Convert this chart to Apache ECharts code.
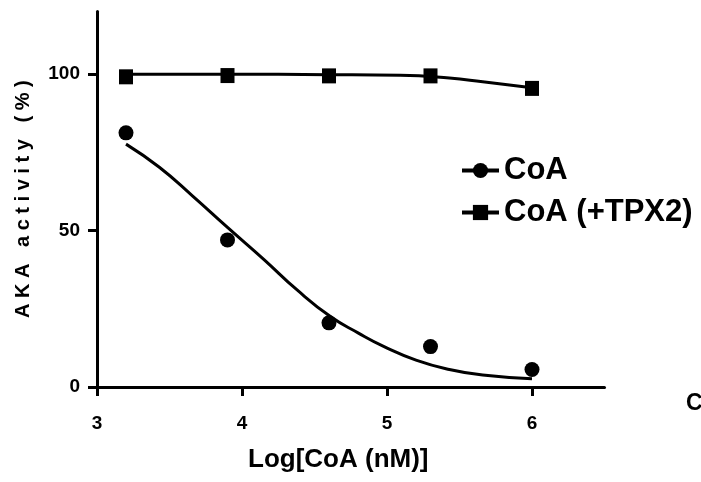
<!DOCTYPE html>
<html>
<head>
<meta charset="utf-8">
<script src="https://cdn.jsdelivr.net/npm/echarts@6/dist/echarts.min.js"></script>
<style>
html,body{margin:0;padding:0;background:#fff;}
#c{width:701px;height:482px;}
</style>
</head>
<body>
<div id="c"></div>
<script>
// Measured points
const coaX = [3.2, 3.9, 4.6, 5.3, 6.0];
const coaY = [81.2, 47.0, 20.5, 12.9, 5.6];
const tpxX = [3.2, 3.9, 4.6, 5.3, 6.0];
const tpxY = [99.1, 99.5, 99.4, 99.4, 95.4];
// Fitted curves
const coaFitX = [3.2, 3.43, 3.66, 3.9, 4.15, 4.38, 4.61, 4.8, 4.98, 5.2, 5.43, 5.66, 6.0];
const coaFitY = [77.6, 70.2, 61.0, 51.0, 40.8, 31.0, 22.5, 17.3, 12.9, 8.6, 5.6, 3.8, 2.6];
const tpxFitX = [3.2, 3.9, 4.6, 5.09, 5.43, 5.66, 6.0];
const tpxFitY = [99.9, 99.9, 99.8, 99.6, 98.7, 97.5, 95.6];
const xTicks = [3, 4, 5, 6];
const yTicks = [0, 50, 100];
const seriesNames = ['CoA', 'CoA (+TPX2)'];
const xName = 'Log[CoA (nM)]';
const yName = 'A K A   a c t i v i t y   ( % )';

const zip = (a, b) => a.map((v, i) => [v, b[i]]);
const FONT = "'Liberation Sans', Arial, sans-serif";

const chart = echarts.init(document.getElementById('c'), null, {renderer: 'canvas'});
chart.setOption({
  animation: false,
  backgroundColor: '#fff',
  grid: {left: 97, right: 96.5, top: 11.4, bottom: 95, containLabel: false},
  xAxis: {
    type: 'value', min: 3, max: 6.5, interval: 1,
    name: xName, nameLocation: 'middle', nameGap: 60,
    nameTextStyle: {fontFamily: FONT, fontWeight: 'bold', fontSize: 26, color: '#000', padding: [0, 25, 0, 0]},
    axisLine: {show: true, onZero: false, lineStyle: {color: '#000', width: 3}},
    axisTick: {show: true, length: 9, lineStyle: {color: '#000', width: 3}, customValues: xTicks},
    axisLabel: {fontFamily: FONT, fontWeight: 'bold', fontSize: 19, color: '#000', margin: 27, customValues: xTicks},
    splitLine: {show: false}
  },
  yAxis: {
    type: 'value', min: 0, max: 120, interval: 50,
    name: yName, nameLocation: 'middle', nameGap: 64, nameRotate: 90,
    nameTextStyle: {fontFamily: FONT, fontWeight: 'bold', fontSize: 20, color: '#000'},
    axisLine: {show: true, onZero: false, lineStyle: {color: '#000', width: 3}},
    axisTick: {show: true, length: 9, lineStyle: {color: '#000', width: 3}, customValues: yTicks},
    axisLabel: {fontFamily: FONT, fontWeight: 'bold', fontSize: 19, color: '#000', margin: 17, customValues: yTicks},
    splitLine: {show: false}
  },
  legend: {
    orient: 'vertical', left: 460, top: 155, padding: 0,
    itemWidth: 37, itemHeight: 19, itemGap: 11,
    data: seriesNames,
    textStyle: {fontFamily: FONT, fontWeight: 'bold', fontSize: 31, color: '#000'},
    lineStyle: {width: 4},
    selectedMode: false
  },
  series: [
    {name: seriesNames[0], type: 'line', data: zip(coaFitX, coaFitY), smooth: true,
     symbol: 'circle', showSymbol: false, lineStyle: {color: '#000', width: 3}, itemStyle: {color: '#000'}, z: 2},
    {name: seriesNames[1], type: 'line', data: zip(tpxFitX, tpxFitY), smooth: true,
     symbol: 'rect', showSymbol: false, lineStyle: {color: '#000', width: 3}, itemStyle: {color: '#000'}, z: 2},
    {name: seriesNames[0], type: 'scatter', data: zip(coaX, coaY), symbol: 'circle', symbolSize: 15,
     itemStyle: {color: '#000', opacity: 1}, z: 3},
    {name: seriesNames[1], type: 'scatter', data: zip(tpxX, tpxY), symbol: 'rect', symbolSize: [14, 15],
     itemStyle: {color: '#000', opacity: 1}, z: 3}
  ],
  graphic: [
    {type: 'text', left: 686, top: 392, style: {text: 'C', fontFamily: FONT, fontWeight: 'bold', fontSize: 23, fill: '#000'}}
  ]
});
</script>
</body>
</html>
